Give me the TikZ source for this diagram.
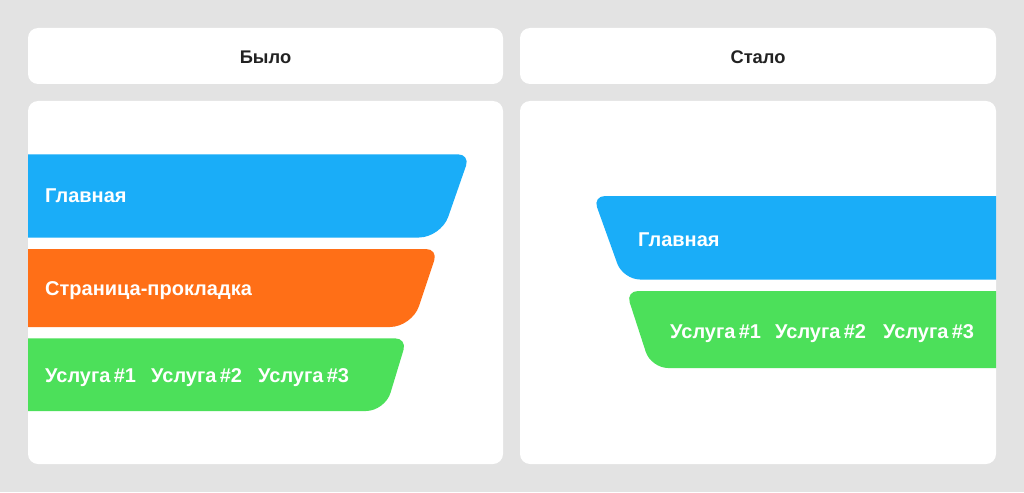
\documentclass[tikz,border=0pt]{standalone}
\usepackage{fontspec}
\setmainfont{Liberation Sans}
\definecolor{bg}{HTML}{E3E3E3}
\definecolor{cblue}{HTML}{1AADF8}
\definecolor{corange}{HTML}{FF6F17}
\definecolor{cgreen}{HTML}{4CE05A}
\definecolor{ink}{HTML}{222222}
\tikzset{
  panel/.style={fill=white, rounded corners=10pt},
  head/.style={font=\bfseries\fontsize{18.3}{20}\selectfont, text=ink, inner sep=0pt, anchor=base},
  lab/.style={font=\bfseries\fontsize{20}{22}\selectfont, text=white, inner sep=0pt, anchor=base west},
}
\begin{document}
\begin{tikzpicture}[x=1pt,y=-1pt]
\fill[bg] (0,0) rectangle (1024,492);
\useasboundingbox (0,0) rectangle (1024,492);
% headers
\fill[panel] (28,28) rectangle (503,84);
\fill[panel] (520,28) rectangle (996,84);
\node[head] (h1) at (265.5,63.3) {Было};
\node[head] (h2) at (758,63.3) {Стало};
% content panels
\fill[panel] (28,101) rectangle (503,464);
\fill[panel] (520,101) rectangle (996,464);
% left funnel
\begin{scope}
\clip[rounded corners=10pt] (28,101) rectangle (503,464);
\fill[cblue] (10,154.3) [rounded corners=12pt] -- (470,154.3) [rounded corners=22pt] -- (441,237.5) [sharp corners] -- (10,237.5) -- cycle;
\fill[corange] (10,249) [rounded corners=12pt] -- (438,249) [rounded corners=22pt] -- (412,327) [sharp corners] -- (10,327) -- cycle;
\fill[cgreen] (10,338.3) [rounded corners=12pt] -- (407,338.3) [rounded corners=19pt] -- (385,411) [sharp corners] -- (10,411) -- cycle;
\end{scope}
\node[lab] (l1) at (45,202.3) {Главная};
\node[lab] (l2) at (45,295.7) {Страница-прокладка};
\node[lab] (l3a) at (45,382) {Услуга\,\#1};
\node[lab] (l3b) at (151,382) {Услуга\,\#2};
\node[lab] (l3c) at (258,382) {Услуга\,\#3};
% right funnel
\begin{scope}
\clip[rounded corners=10pt] (520,101) rectangle (996,464);
\fill[cblue] (1010,196) [rounded corners=12pt] -- (593,196) [rounded corners=17pt] -- (623,279.5) [sharp corners] -- (1010,279.5) -- cycle;
\fill[cgreen] (1010,291) [rounded corners=12pt] -- (626,291) [rounded corners=17pt] -- (651,368) [sharp corners] -- (1010,368) -- cycle;
\end{scope}
\node[lab] (r1) at (638,246) {Главная};
\node[lab] (r2a) at (670,338) {Услуга\,\#1};
\node[lab] (r2b) at (775,338) {Услуга\,\#2};
\node[lab] (r2c) at (883,338) {Услуга\,\#3};
\end{tikzpicture}
\end{document}
